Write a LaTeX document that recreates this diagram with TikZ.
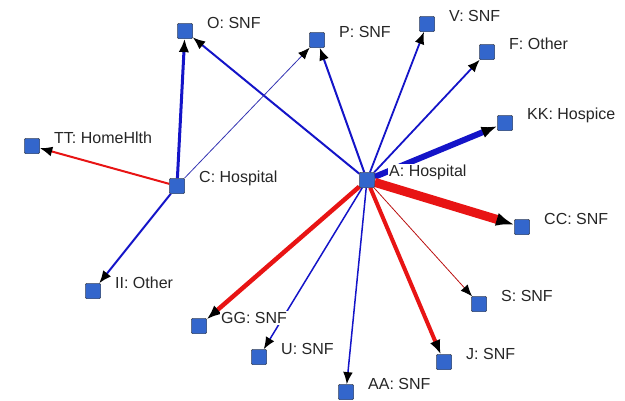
\documentclass[tikz,border=0pt]{standalone}
\usepackage{fontspec}
\setmainfont{Liberation Sans}
\usetikzlibrary{arrows.meta}
\definecolor{siteblue}{RGB}{51,102,204}
\definecolor{flowblue}{RGB}{20,20,200}
\definecolor{flowred}{RGB}{232,20,20}
\begin{document}
\begin{tikzpicture}[x=1pt,y=-1pt,
 site/.style={draw=black!75, fill=siteblue, minimum size=15pt, inner sep=0pt, rounded corners=1pt},
 tag/.style={fill=white, inner sep=1pt, anchor=west, text=black!85, font=\fontsize{16}{18}\selectfont},
 flow/.style={-{Latex[black,length=11pt 0.8,width=9pt 0.5]}}]
\useasboundingbox (0,0) rectangle (625,400);
\path (185,31) coordinate (O) (317,40) coordinate (P) (427,24) coordinate (V) (487,52) coordinate (F)
 (505,123) coordinate (KK) (367,180) coordinate (A) (522,227) coordinate (CC) (177,186) coordinate (C)
 (32,146) coordinate (TT) (93,291) coordinate (II) (199,326) coordinate (GG) (259,357) coordinate (U)
 (346,392) coordinate (AA) (444,362) coordinate (J) (479,304) coordinate (S);
% squares first as named nodes so the flows stop at their border
\foreach \n in {O,P,V,F,KK,A,CC,C,TT,II,GG,U,AA,J,S} \path (\n) node[site] (\n-s) {};
\foreach \d/\dd/\c/\w in {C/O/flowblue/3, A/O/flowblue/2, C/P/flowblue!70!gray/0.8, A/P/flowblue/2,
 A/V/flowblue/1.8, A/F/flowblue/1.8, A/KK/flowblue/6, A/CC/flowred/9, C/TT/flowred/2, C/II/flowblue/2,
 A/GG/flowred/4.5, A/U/flowblue/1.5, A/AA/flowblue/1.5, A/J/flowred/4, A/S/flowred!80!black/0.8}
 \draw[flow, draw=\c, line width=\w pt] (\d-s) -- (\dd-s);
\foreach \n/\t in {O/O: SNF, P/P: SNF, V/V: SNF, F/F: Other, KK/KK: Hospice, A/A: Hospital, CC/CC: SNF,
 C/C: Hospital, TT/TT: HomeHlth, II/II: Other, GG/GG: SNF, U/U: SNF, AA/AA: SNF, J/J: SNF, S/S: SNF}
 \node[tag] (\n-t) at ([shift={(21,-8)}]\n) {\t};
\foreach \n in {O,P,V,F,KK,A,CC,C,TT,II,GG,U,AA,J,S} \path (\n) node[site] {};
\end{tikzpicture}
\end{document}
